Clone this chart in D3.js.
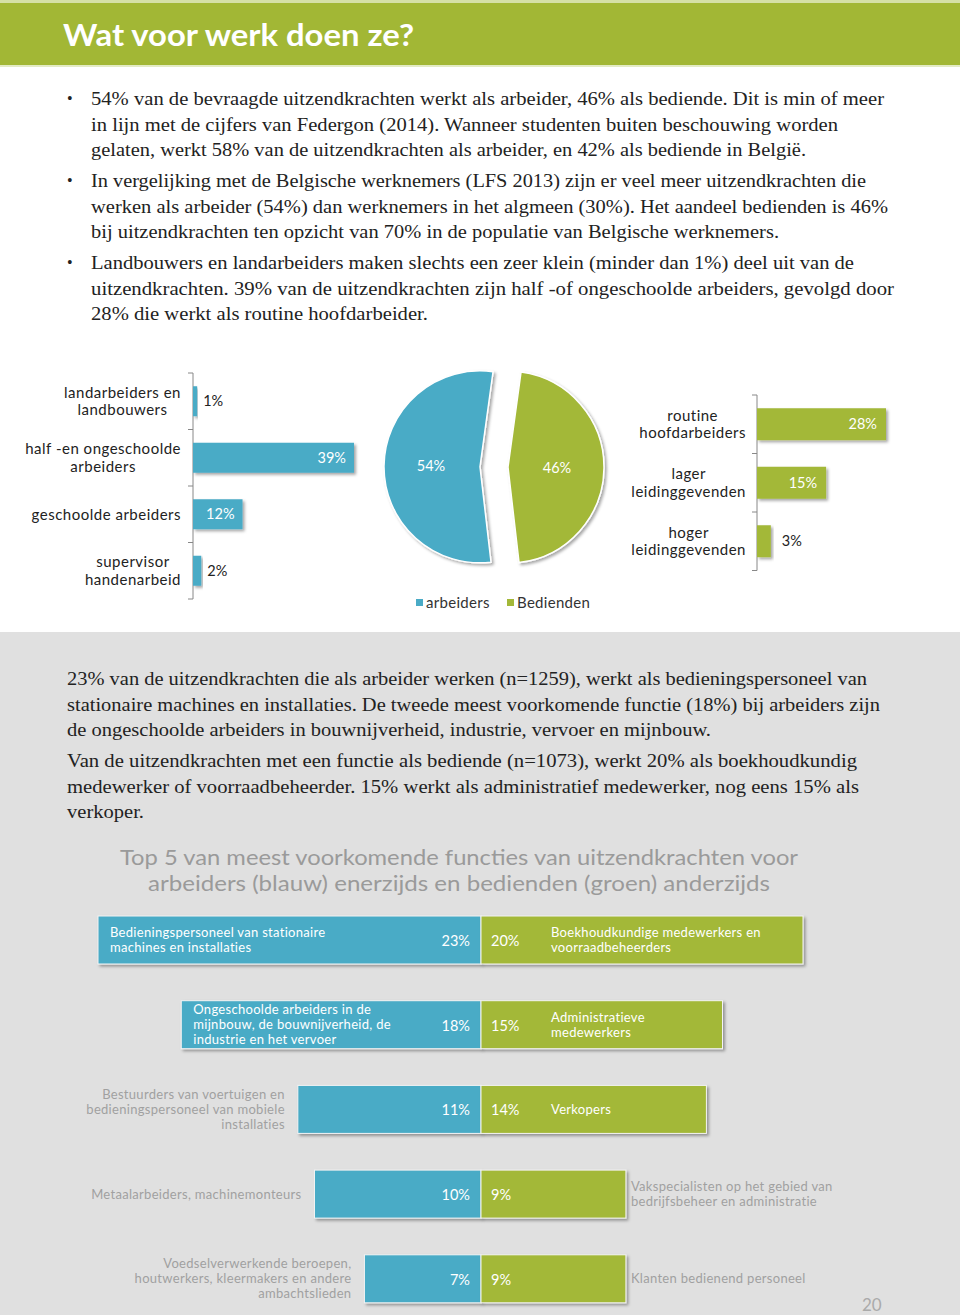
<!DOCTYPE html>
<html><head><meta charset="utf-8">
<script src="https://cdn.jsdelivr.net/npm/d3@7"></script>
<style>
html,body{margin:0;padding:0;background:#fff;}
svg{display:block;}
</style></head>
<body>
<svg id="c" width="960" height="1315"></svg>
<script>
// ---------- DATA ----------
const titleText = "Wat voor werk doen ze?";
const introBullets = [
  ["54% van de bevraagde uitzendkrachten werkt als arbeider, 46% als bediende. Dit is min of  meer",
   "in lijn met de cijfers van Federgon (2014). Wanneer studenten buiten beschouwing worden",
   "gelaten, werkt 58% van de uitzendkrachten als arbeider, en 42% als bediende in België."],
  ["In vergelijking met de Belgische werknemers (LFS 2013) zijn er veel meer uitzendkrachten die",
   "werken als arbeider (54%) dan werknemers in het algmeen (30%). Het aandeel bedienden is 46%",
   "bij uitzendkrachten ten opzicht van 70% in de populatie van Belgische werknemers."],
  ["Landbouwers en landarbeiders maken slechts een zeer klein (minder dan 1%) deel uit van de",
   "uitzendkrachten. 39% van de uitzendkrachten zijn half -of  ongeschoolde arbeiders, gevolgd door",
   "28% die werkt als routine hoofdarbeider."]
];
const leftCategories = [["landarbeiders en","landbouwers"],["half -en ongeschoolde","arbeiders"],["geschoolde arbeiders"],["supervisor","handenarbeid"]];
const leftValues = [1, 39, 12, 2];
const pieCategories = ["arbeiders", "Bedienden"];
const pieValues = [54, 46];
const rightCategories = [["routine","hoofdarbeiders"],["lager","leidinggevenden"],["hoger","leidinggevenden"]];
const rightValues = [28, 15, 3];
const bodyParagraphs = [
  ["23% van de uitzendkrachten die als arbeider werken (n=1259), werkt als bedieningspersoneel van",
   "stationaire machines en installaties. De tweede meest voorkomende functie (18%) bij arbeiders zijn",
   "de ongeschoolde arbeiders in bouwnijverheid, industrie, vervoer en mijnbouw."],
  ["Van de uitzendkrachten met een functie als bediende (n=1073), werkt 20% als boekhoudkundig",
   "medewerker of  voorraadbeheerder. 15% werkt als administratief  medewerker, nog eens 15% als",
   "verkoper."]
];
const subtitleLines = ["Top 5 van meest voorkomende functies van uitzendkrachten voor",
                       "arbeiders (blauw) enerzijds en bedienden (groen) anderzijds"];
const arbeiderFuncties = [
  ["Bedieningspersoneel van stationaire","machines en installaties"],
  ["Ongeschoolde arbeiders in de","mijnbouw, de bouwnijverheid, de","industrie en het vervoer"],
  ["Bestuurders van voertuigen en","bedieningspersoneel van mobiele","installaties"],
  ["Metaalarbeiders, machinemonteurs"],
  ["Voedselverwerkende beroepen,","houtwerkers, kleermakers en andere","ambachtslieden"]
];
const arbeiderValues = [23, 18, 11, 10, 7];
const bediendeFuncties = [
  ["Boekhoudkundige medewerkers en","voorraadbeheerders"],
  ["Administratieve","medewerkers"],
  ["Verkopers"],
  ["Vakspecialisten op het gebied van","bedrijfsbeheer en administratie"],
  ["Klanten bedienend personeel"]
];
const bediendeValues = [20, 15, 14, 9, 9];
const pageNumber = "20";

// ---------- STYLE ----------
const BLUE = "#4aabc6", GREEN = "#a3b838", HEAD = "#a2b735";
const SANS = "Lato, 'Open Sans', sans-serif";
const SERIF = "'Liberation Serif', 'DejaVu Serif', serif";
const svg = d3.select("#c");

const defs = svg.append("defs");
const f = defs.append("filter").attr("id","sh").attr("x","-10%").attr("y","-20%").attr("width","130%").attr("height","160%");
f.append("feDropShadow").attr("dx",2).attr("dy",2).attr("stdDeviation",1.4).attr("flood-color","#000").attr("flood-opacity",0.35);

// backgrounds
svg.append("rect").attr("x",0).attr("y",0).attr("width",960).attr("height",1315).attr("fill","#fff");
svg.append("rect").attr("x",0).attr("y",632).attr("width",960).attr("height",683).attr("fill","#e0e0e0");
svg.append("rect").attr("x",0).attr("y",0).attr("width",960).attr("height",3).attr("fill","#d5e0a6");
svg.append("rect").attr("x",0).attr("y",3).attr("width",960).attr("height",62).attr("fill",HEAD);
svg.append("rect").attr("x",0).attr("y",65).attr("width",960).attr("height",2).attr("fill","#e3ebc4");
svg.append("text").attr("x",63).attr("y",46).attr("fill","#fff").attr("font-family",SANS)
  .attr("font-weight","bold").attr("font-size",30).attr("textLength",351).attr("lengthAdjust","spacingAndGlyphs").text(titleText);

// intro bullets
const introWidths = [[793,747,715],[775,797,688],[763,803,337]];
const introBase = [105,187,269];
introBullets.forEach((lines,i)=>{
  svg.append("text").attr("x",67).attr("y",introBase[i]-1).attr("font-family",SERIF).attr("font-size",16).attr("fill","#222").text("•");
  lines.forEach((l,j)=>{
    svg.append("text").attr("x",91).attr("y",introBase[i]+j*25.7).attr("font-family",SERIF).attr("font-size",19.5)
      .attr("fill","#222").attr("textLength",introWidths[i][j]).attr("lengthAdjust","spacingAndGlyphs").text(l);
  });
});

// helper: multi-line block, right edge at rx, lines centred within block
function blockLabel(g, lines, rx, cy, size, lh, color){
  const t = g.append("g");
  const n = lines.length;
  const texts = lines.map((l,k)=> t.append("text").attr("font-family",SANS).attr("font-size",size).attr("fill",color)
      .attr("letter-spacing",0.5)
      .attr("y", cy + (k-(n-1)/2)*lh + size*0.35).attr("text-anchor","middle").text(l));
  const maxW = d3.max(texts, s=>s.node().getComputedTextLength());
  texts.forEach(s=>s.attr("x", rx - maxW/2));
}

// ---------- LEFT BAR CHART ----------
{
  const g = svg.append("g");
  const x0 = 193;
  const x = d3.scaleLinear().domain([0,39]).range([x0, 354]);
  const y = d3.scaleBand().domain(d3.range(leftValues.length)).range([373, 599]);
  const bh = 30;
  g.append("line").attr("x1",x0).attr("x2",x0).attr("y1",373).attr("y2",599).attr("stroke","#888");
  d3.range(leftValues.length+1).forEach(i=>{
    const yy = 373 + i*y.step();
    g.append("line").attr("x1",x0-5).attr("x2",x0).attr("y1",yy).attr("y2",yy).attr("stroke","#888");
  });
  leftValues.forEach((v,i)=>{
    const by = y(i) + (y.step()-bh)/2;
    g.append("rect").attr("x",x0).attr("y",by).attr("width",x(v)-x0).attr("height",bh).attr("fill",BLUE).attr("filter","url(#sh)");
    const w = x(v)-x0;
    const inside = w > 40;
    g.append("text").attr("x", inside ? x(v)-8 : x(v)+6).attr("y", by+bh/2+5)
      .attr("text-anchor", inside ? "end":"start").attr("font-family",SANS).attr("font-size",14.5)
      .attr("fill", inside ? "#fff" : "#222").text(v+"%");
    blockLabel(g, leftCategories[i], 181, y(i)+y.step()/2, 15, 17.5, "#222");
  });
}

// ---------- PIE ----------
{
  const g = svg.append("g").attr("transform","translate(494,467)");
  const r = 96;
  const start = 173.4*Math.PI/180;
  const pie = d3.pie().sort(null).startAngle(start).endAngle(start+2*Math.PI);
  const arc = d3.arc().innerRadius(0).outerRadius(r);
  const arcs = pie(pieValues);
  const cols = [BLUE, GREEN];
  arcs.forEach((a,i)=>{
    const mid = (a.startAngle+a.endAngle)/2;
    const dx = Math.sin(mid)*14, dy = -Math.cos(mid)*14;
    const sg = g.append("g").attr("transform",`translate(${dx},${dy})`);
    sg.append("path").attr("d",arc(a)).attr("fill",cols[i]).attr("stroke","#fff").attr("stroke-width",1.5).attr("filter","url(#sh)");
    const lx = Math.sin(mid)*49, ly = -Math.cos(mid)*49;
    sg.append("text").attr("x",lx).attr("y",ly+5).attr("text-anchor","middle").attr("font-family",SANS)
      .attr("font-size",14.5).attr("fill","#fff").text(pieValues[i]+"%");
  });
  // legend
  const lg = svg.append("g");
  const lx = [416, 507];
  pieCategories.forEach((c,i)=>{
    lg.append("rect").attr("x",lx[i]).attr("y",599).attr("width",7).attr("height",7).attr("fill",cols[i]);
    lg.append("text").attr("x",lx[i]+10).attr("y",608).attr("font-family",SANS).attr("font-size",15)
      .attr("letter-spacing",0.3).attr("fill","#333").text(c);
  });
}

// ---------- RIGHT BAR CHART ----------
{
  const g = svg.append("g");
  const x0 = 757;
  const x = d3.scaleLinear().domain([0,28]).range([x0, 886]);
  const y = d3.scaleBand().domain(d3.range(rightValues.length)).range([395, 570.5]);
  const bh = 32;
  g.append("line").attr("x1",x0).attr("x2",x0).attr("y1",395).attr("y2",570.5).attr("stroke","#888");
  d3.range(rightValues.length+1).forEach(i=>{
    const yy = 395 + i*y.step();
    g.append("line").attr("x1",x0-5).attr("x2",x0).attr("y1",yy).attr("y2",yy).attr("stroke","#888");
  });
  rightValues.forEach((v,i)=>{
    const by = y(i) + (y.step()-bh)/2;
    g.append("rect").attr("x",x0).attr("y",by).attr("width",x(v)-x0).attr("height",bh).attr("fill",GREEN).attr("filter","url(#sh)");
    const w = x(v)-x0;
    const inside = w > 40;
    g.append("text").attr("x", inside ? x(v)-9 : x(v)+11).attr("y", by+bh/2+5)
      .attr("text-anchor", inside ? "end":"start").attr("font-family",SANS).attr("font-size",14.5)
      .attr("fill", inside ? "#fff" : "#222").text(v+"%");
    blockLabel(g, rightCategories[i], 746, y(i)+y.step()/2, 15, 17.5, "#222");
  });
}

// ---------- BODY TEXT ----------
{
  const widths = [[800,813,644],[790,792,77]];
  const base = [685, 767];
  bodyParagraphs.forEach((lines,i)=>{
    lines.forEach((l,j)=>{
      svg.append("text").attr("x",67).attr("y",base[i]+j*25.7).attr("font-family",SERIF).attr("font-size",19.5)
        .attr("fill","#222").attr("textLength",widths[i][j]).attr("lengthAdjust","spacingAndGlyphs").text(l);
    });
  });
  const sw = [678, 622];
  subtitleLines.forEach((l,j)=>{
    svg.append("text").attr("x",459).attr("y",865+j*25.5).attr("text-anchor","middle").attr("font-family",SANS)
      .attr("font-size",22).attr("fill","#9a9a9a").attr("textLength",sw[j]).attr("lengthAdjust","spacingAndGlyphs").text(l);
  });
}

// ---------- BUTTERFLY TOP 5 ----------
{
  const g = svg.append("g");
  const cx = 481;
  const xB = d3.scaleLinear().domain([0,23]).range([cx, 98]);
  const xG = d3.scaleLinear().domain([0,20]).range([cx, 803]);
  const y = d3.scaleBand().domain(d3.range(arbeiderValues.length)).range([916, 916+5*84.7]);
  const bh = 48;
  const fs = 13, lh = 15;
  arbeiderValues.forEach((v,i)=>{
    const by = y(i), cyy = by+bh/2;
    const bx = xB(v), gx = xG(bediendeValues[i]);
    g.append("rect").attr("x",bx).attr("y",by).attr("width",cx-bx).attr("height",bh).attr("fill",BLUE)
      .attr("stroke","#f4f4f4").attr("stroke-width",1).attr("filter","url(#sh)");
    g.append("rect").attr("x",cx).attr("y",by).attr("width",gx-cx).attr("height",bh).attr("fill",GREEN)
      .attr("stroke","#f4f4f4").attr("stroke-width",1).attr("filter","url(#sh)");
    g.append("text").attr("x",cx-11).attr("y",cyy+6).attr("text-anchor","end").attr("font-family",SANS)
      .attr("font-size",14.5).attr("fill","#fff").text(v+"%");
    g.append("text").attr("x",cx+10).attr("y",cyy+6).attr("font-family",SANS)
      .attr("font-size",14.5).attr("fill","#fff").text(bediendeValues[i]+"%");

    // arbeider label
    const al = arbeiderFuncties[i], n = al.length;
    const aT = al.map((l,k)=> g.append("text").attr("font-family",SANS).attr("font-size",fs).attr("letter-spacing",0.3)
        .attr("y", cyy + (k-(n-1)/2)*lh + 4.5).text(l));
    const aw = d3.max(aT, s=>s.node().getComputedTextLength());
    if (aw + 60 < cx - bx) {
      aT.forEach(s=>s.attr("x", bx + 12).attr("fill","#fff"));
    } else {
      aT.forEach(s=>s.attr("x", bx - 13).attr("text-anchor","end").attr("fill","#a0a0a0"));
    }
    // bediende label
    const bl = bediendeFuncties[i], m = bl.length;
    const bT = bl.map((l,k)=> g.append("text").attr("font-family",SANS).attr("font-size",fs).attr("letter-spacing",0.3)
        .attr("y", cyy + (k-(m-1)/2)*lh + 4.5).text(l));
    const bw = d3.max(bT, s=>s.node().getComputedTextLength());
    if (bw + 75 < gx - cx) {
      bT.forEach(s=>s.attr("x", cx + 70).attr("fill","#fff"));
    } else {
      bT.forEach(s=>s.attr("x", gx + 5).attr("fill","#a0a0a0"));
    }
  });
}
svg.append("text").attr("x",862).attr("y",1311).attr("font-family",SANS).attr("font-size",17).attr("fill","#aaa").text(pageNumber);
</script>
</body></html>
